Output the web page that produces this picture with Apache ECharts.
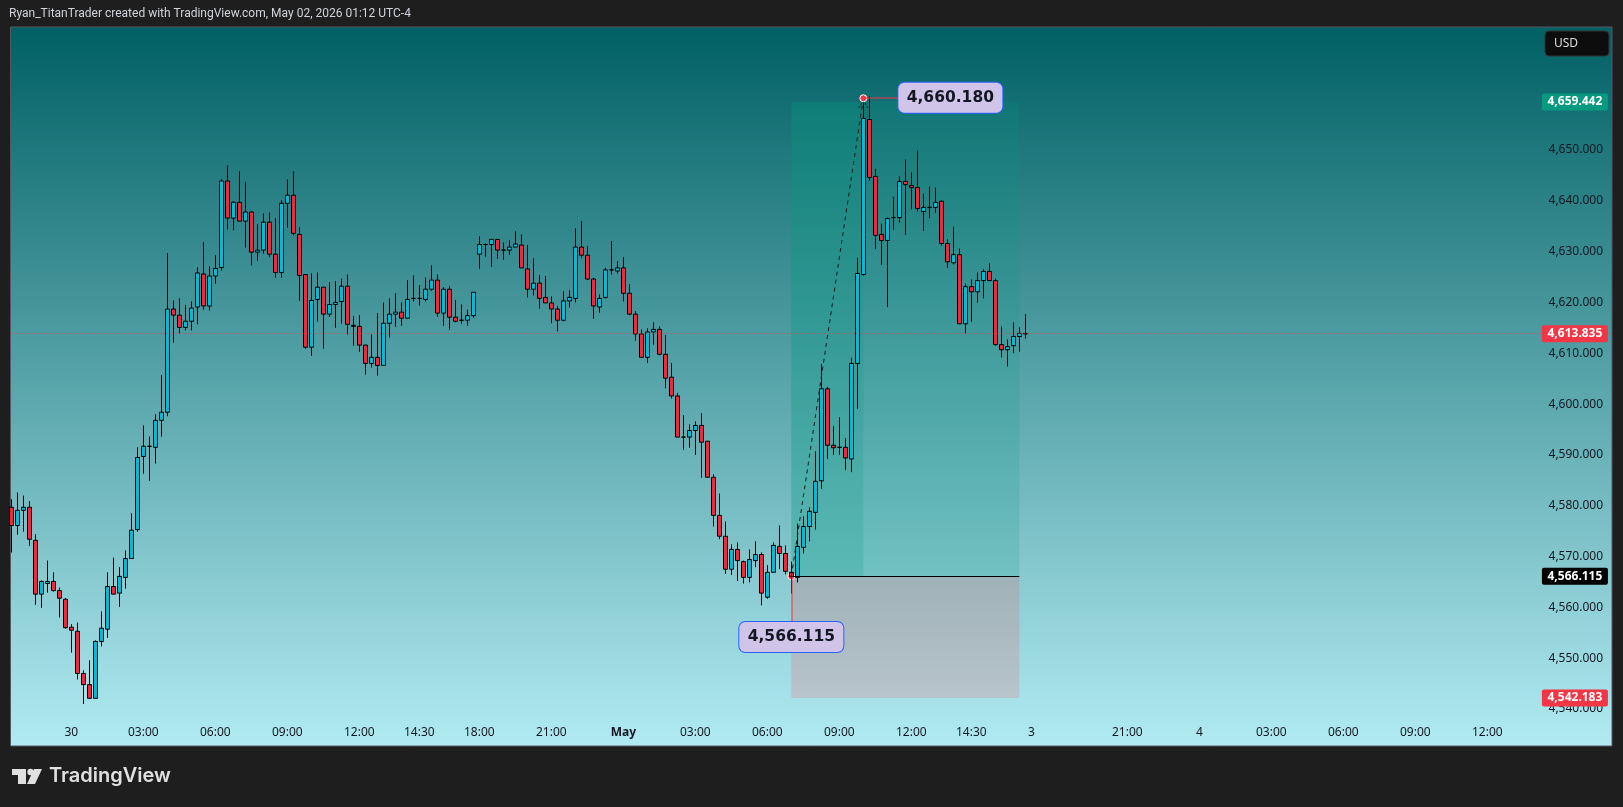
<!DOCTYPE html>
<html>
<head>
<meta charset="utf-8">
<title>XAUUSD</title>
<script src="https://cdn.jsdelivr.net/npm/echarts@6/dist/echarts.min.js"></script>
<style>
html,body{margin:0;padding:0;background:#1e1e1e;}
#chart{width:1623px;height:807px;}
</style>
</head>
<body>
<div id="chart"></div>
<script>
var opens = [
	4579.7,4576.1,4579.1,4579.7,4573.2,4562.6,4564.7,4565.1,4563.3,4561.6,
	4556.1,4555.3,4547.0,4544.8,4542.1,4553.3,4555.7,4564.1,4562.8,4565.9,
	4569.6,4575.3,4589.7,4591.7,4591.5,4596.8,4598.4,4618.7,4617.5,4615.1,
	4616.3,4619.1,4625.6,4619.3,4625.2,4626.9,4643.9,4636.6,4639.7,4636.0,
	4637.8,4629.9,4630.3,4635.8,4629.5,4625.9,4639.5,4641.1,4633.4,4625.5,
	4611.2,4620.6,4623.0,4617.7,4619.6,4620.2,4623.2,4615.5,4615.3,4611.6,
	4608.0,4609.2,4607.6,4615.9,4617.7,4618.1,4616.9,4620.8,4620.8,4620.6,
	4622.6,4624.4,4617.9,4622.6,4617.1,4616.5,4616.5,4617.4,4629.5,4631.4,
	4631.4,4632.4,4630.3,4630.3,4630.9,4631.3,4626.6,4622.6,4623.8,4621.0,
	4619.9,4618.7,4616.5,4620.3,4620.8,4630.9,4629.3,4624.6,4619.1,4621.0,
	4626.4,4626.2,4626.8,4621.8,4617.7,4613.8,4609.2,4614.2,4614.7,4609.8,
	4605.3,4601.6,4593.5,4593.5,4594.8,4595.8,4592.7,4585.6,4578.1,4574.0,
	4567.5,4571.4,4569.0,4565.9,4569.2,4570.4,4562.0,4566.9,4572.0,4570.6,
	4566.9,4565.9,4571.8,4575.9,4578.7,4584.9,4603.0,4591.9,4591.5,4591.5,
	4589.2,4608.0,4625.5,4656.0,4644.8,4633.4,4632.2,4636.7,4636.7,4643.8,
	4643.0,4642.6,4637.9,4638.7,4638.7,4639.9,4631.6,4627.8,4629.4,4615.8,
	4623.1,4622.1,4624.3,4626.1,4624.3,4611.7,4610.7,4611.5,4613.3,4613.9
];
var closes = [
	4576.1,4579.1,4579.7,4573.4,4562.6,4565.1,4565.1,4563.3,4561.8,4556.0,
	4555.5,4547.0,4544.8,4542.1,4553.3,4555.9,4564.1,4562.6,4566.1,4569.6,
	4575.2,4589.5,4591.7,4591.7,4596.8,4598.4,4618.7,4617.5,4615.1,4616.3,
	4618.9,4625.8,4619.3,4625.2,4626.7,4643.9,4636.6,4639.7,4636.0,4637.8,
	4629.9,4630.3,4635.8,4629.5,4625.9,4639.5,4641.1,4633.6,4625.3,4611.2,
	4620.4,4623.0,4617.7,4619.6,4620.0,4623.2,4615.7,4615.3,4611.6,4608.0,
	4609.2,4607.6,4615.9,4617.7,4618.1,4616.9,4620.6,4620.8,4620.8,4622.6,
	4624.4,4617.9,4622.6,4617.1,4616.3,4616.5,4617.4,4622.0,4631.4,4631.4,
	4632.4,4630.3,4630.3,4630.9,4631.5,4626.8,4622.6,4623.8,4620.8,4619.9,
	4618.7,4616.5,4620.3,4621.0,4630.9,4629.3,4624.6,4619.3,4620.8,4626.4,
	4626.4,4626.8,4621.8,4617.7,4613.8,4609.2,4614.2,4614.7,4609.8,4605.1,
	4601.6,4593.5,4593.5,4594.8,4595.8,4592.5,4585.6,4578.1,4574.0,4567.5,
	4571.4,4569.2,4565.9,4569.4,4570.4,4562.8,4566.9,4572.2,4570.6,4567.1,
	4566.1,4572.0,4575.9,4578.9,4584.8,4603.0,4591.9,4591.4,4591.5,4589.4,
	4608.0,4625.7,4656.2,4644.6,4633.2,4632.2,4636.5,4636.7,4643.8,4643.2,
	4642.6,4638.5,4638.7,4638.7,4639.7,4631.6,4628.0,4629.4,4615.8,4623.1,
	4622.1,4624.3,4626.1,4624.3,4611.7,4610.7,4611.3,4613.3,4613.9,4613.8
];
var lows = [
	4570.8,4574.3,4574.9,4572.1,4560.5,4559.9,4562.9,4563.1,4558.0,4555.8,
	4551.1,4545.8,4541.0,4542.1,4542.1,4552.3,4554.0,4562.6,4560.1,4563.7,
	4569.6,4574.9,4586.3,4584.9,4588.3,4593.6,4597.6,4612.1,4613.9,4614.5,
	4614.5,4615.7,4618.6,4618.4,4623.7,4626.3,4634.4,4634.2,4636.0,4630.8,
	4627.3,4628.2,4629.6,4628.9,4624.9,4624.9,4634.7,4633.2,4620.3,4610.9,
	4609.5,4616.2,4610.9,4617.2,4615.0,4615.8,4613.7,4611.5,4610.3,4605.8,
	4607.2,4605.6,4607.6,4613.1,4615.2,4615.4,4616.9,4620.2,4619.4,4620.2,
	4622.3,4617.2,4615.4,4614.6,4616.1,4615.8,4615.4,4617.0,4626.6,4629.0,
	4627.0,4628.6,4628.4,4629.4,4630.9,4626.8,4621.0,4621.4,4618.8,4619.9,
	4615.9,4614.3,4616.3,4619.0,4620.0,4628.7,4624.4,4616.8,4618.0,4620.8,
	4625.5,4625.7,4620.2,4617.5,4612.5,4609.2,4608.1,4611.7,4609.6,4603.1,
	4601.1,4593.5,4591.0,4591.4,4590.0,4585.5,4585.6,4575.9,4573.4,4566.6,
	4566.4,4565.2,4564.7,4564.9,4567.9,4560.4,4561.7,4566.9,4567.5,4566.5,
	4562.7,4564.9,4570.6,4573.0,4575.3,4583.3,4589.2,4590.0,4590.0,4587.0,
	4586.6,4599.1,4625.3,4644.0,4630.5,4627.4,4619.1,4634.3,4635.7,4633.3,
	4638.3,4637.9,4634.1,4636.6,4637.6,4631.2,4626.8,4627.5,4615.8,4613.9,
	4616.2,4620.0,4620.8,4624.3,4611.5,4609.2,4607.4,4610.0,4610.3,4612.9
];
var highs = [
	4581.3,4582.6,4582.0,4580.9,4574.4,4565.3,4569.2,4566.9,4563.9,4561.8,
	4556.7,4557.0,4547.6,4549.6,4553.5,4559.2,4566.9,4569.8,4567.9,4571.2,
	4578.5,4591.5,4595.8,4593.6,4598.0,4605.7,4629.7,4620.4,4620.8,4619.5,
	4620.2,4626.9,4631.9,4627.1,4629.3,4644.3,4647.0,4639.9,4645.8,4643.7,
	4638.0,4635.4,4637.5,4637.7,4636.6,4640.1,4644.2,4645.8,4634.8,4625.5,
	4625.7,4625.9,4623.0,4624.0,4624.2,4624.7,4625.5,4617.3,4617.5,4611.7,
	4613.7,4617.9,4620.0,4620.8,4621.8,4620.0,4624.4,4625.3,4623.4,4624.9,
	4627.3,4625.5,4623.0,4623.2,4620.5,4619.6,4618.6,4622.0,4633.0,4631.6,
	4632.4,4632.4,4631.8,4632.3,4634.0,4633.4,4631.3,4628.7,4625.4,4625.2,
	4621.2,4619.3,4622.2,4622.4,4634.6,4636.0,4631.1,4624.8,4621.6,4626.8,
	4632.1,4628.1,4628.9,4623.6,4618.3,4614.7,4614.9,4616.1,4615.3,4613.6,
	4608.1,4602.2,4597.8,4596.0,4596.6,4598.2,4592.7,4586.2,4582.4,4576.9,
	4572.4,4572.8,4569.2,4571.4,4573.0,4570.8,4568.3,4572.8,4576.1,4572.2,
	4569.0,4576.5,4577.9,4579.7,4590.7,4607.9,4603.4,4595.7,4597.4,4593.3,
	4609.1,4628.8,4660.2,4660.5,4646.3,4635.5,4636.7,4640.8,4644.8,4648.1,
	4645.6,4649.9,4641.4,4642.8,4642.6,4640.1,4632.4,4634.9,4630.6,4623.7,
	4624.5,4625.9,4626.5,4627.7,4624.7,4615.3,4612.7,4616.1,4615.1,4617.7
];

// time axis, index = candle number (15 min bars)
var timeTicks = [10,22,34,46,58,68,78,90,102,114,126,138,150,160,170,186,198,210,222,234,246];
var timeLabels = ['30','03:00','06:00','09:00','12:00','14:30','18:00','21:00','May','03:00','06:00','09:00','12:00','14:30','3','21:00','4','03:00','06:00','09:00','12:00'];
var priceTicks = [4540,4550,4560,4570,4580,4590,4600,4610,4620,4630,4640,4650];

// long position drawing
var entryPrice = 4566.115;
var targetPrice = 4659.442;
var stopPrice = 4542.183;
var lastPrice = 4613.835;
var swingLow = 4566.115;
var swingHigh = 4660.18;
var posStart = 130;
var posPivot = 142;
var posEnd = 168;

// price tags on the right
var tagPrices = [targetPrice, lastPrice, entryPrice, stopPrice];
var tagColors = ['#089981', '#f23645', '#000000', '#f23645'];
var tagX = 260.6;

var FONT = '"Noto Sans", sans-serif';

function fmtPrice(v){
	var s = v.toFixed(3);
	return s.charAt(0) + ',' + s.substring(1);
}

var candleData = [];
for(var i = 0; i < opens.length; i++){
	candleData.push([i, opens[i], closes[i], lows[i], highs[i]]);
}

var tagData = [];
for(var t = 0; t < tagPrices.length; t++){
	tagData.push({
		value: [tagX, tagPrices[t]],
		label: { backgroundColor: tagColors[t] }
	});
}

var theChart = echarts.init(document.getElementById('chart'));

var option = {
	animation: false,
	backgroundColor: '#1e1e1e',
	grid: {
		left: 10.5,
		top: 27,
		width: 1601.5,
		height: 719,
		show: true,
		borderColor: '#555860',
		borderWidth: 1,
		backgroundColor: new echarts.graphic.LinearGradient(0, 0, 0, 1, [
			{ offset: 0, color: '#006064' },
			{ offset: 1, color: '#b2ebf2' }
		])
	},
	xAxis: {
		type: 'value',
		min: -0.14,
		max: 266.78,
		axisLine: { show: false },
		axisTick: { show: false },
		splitLine: { show: false },
		axisLabel: {
			inside: true,
			margin: 7,
			customValues: timeTicks,
			fontFamily: FONT,
			fontSize: 12,
			color: '#131722',
			formatter: function(v){
				var l = timeLabels[timeTicks.indexOf(v)];
				return l == 'May' ? '{b|May}' : l;
			},
			rich: { b: { fontWeight: 'bold', fontFamily: FONT, fontSize: 12, color: '#131722' } }
		}
	},
	yAxis: {
		type: 'value',
		position: 'right',
		min: 4532.72,
		max: 4674.2,
		axisLine: { show: false },
		axisTick: { show: false },
		splitLine: { show: false },
		axisLabel: {
			inside: true,
			margin: 9,
			customValues: priceTicks,
			fontFamily: FONT,
			fontSize: 12,
			color: '#131722',
			formatter: function(v){ return fmtPrice(v); }
		}
	},
	series: [
		{
			name: 'position',
			type: 'line',
			z: 1,
			silent: true,
			showSymbol: false,
			data: [[posStart, entryPrice]],
			markArea: {
				silent: true,
				data: [
					[{ coord: [posStart, targetPrice], itemStyle: { color: 'rgba(8,153,129,0.17)' } }, { coord: [posEnd, entryPrice] }],
					[{ coord: [posStart, targetPrice], itemStyle: { color: 'rgba(8,153,129,0.2)' } }, { coord: [posPivot, entryPrice] }],
					[{ coord: [posStart, entryPrice], itemStyle: { color: 'rgba(255,80,90,0.2)' } }, { coord: [posEnd, stopPrice] }]
				]
			},
			markLine: {
				silent: true,
				symbol: 'none',
				label: { show: false },
				data: [
					[{ coord: [posStart, entryPrice], lineStyle: { color: '#000', width: 1, type: 'solid' } }, { coord: [posEnd, entryPrice] }],
					[{ coord: [posStart, swingLow], lineStyle: { color: 'rgba(242,54,69,0.5)', width: 2, type: 'solid' } }, { coord: [posStart, 4556] }],
					[{ coord: [posPivot, swingHigh], lineStyle: { color: 'rgba(242,54,69,0.5)', width: 2, type: 'solid' } }, { coord: [150, swingHigh] }]
				]
			}
		},
		{
			name: 'swing low',
			type: 'scatter',
			z: 1,
			silent: true,
			symbolSize: 7,
			itemStyle: { color: '#f23645', borderColor: '#fff', borderWidth: 1, opacity: 1 },
			data: [[posStart, swingLow]]
		},
		{
			name: 'XAUUSD',
			type: 'candlestick',
			z: 2,
			barWidth: 4,
			silent: true,
			itemStyle: {
				color: '#00bcd4',
				color0: '#f7263f',
				borderColor: '#000',
				borderColor0: '#000',
				borderColorDoji: '#000',
				borderWidth: 1
			},
			data: candleData,
			markLine: {
				silent: true,
				symbol: 'none',
				label: { show: false },
				lineStyle: { color: '#f23645', width: 1, type: [1, 2], opacity: 0.8 },
				data: [{ yAxis: lastPrice }]
			}
		},
		{
			name: 'leg',
			type: 'line',
			z: 3,
			silent: true,
			showSymbol: false,
			lineStyle: { color: '#0b1a1c', width: 1, type: [4, 4] },
			data: [[posStart, swingLow], [posPivot, swingHigh]]
		},
		{
			name: 'arrow head',
			type: 'scatter',
			z: 3,
			silent: true,
			symbol: 'path://M0,10 L5,0 L10,10',
			symbolSize: [9, 7],
			itemStyle: { color: 'transparent', borderColor: '#0b1a1c', borderWidth: 1, borderType: [2, 2], opacity: 1 },
			data: [[posPivot, 4659.0]]
		},
		{
			name: 'swing high',
			type: 'scatter',
			z: 4,
			silent: true,
			symbolSize: 7,
			itemStyle: { color: '#f23645', borderColor: '#fff', borderWidth: 1, opacity: 1 },
			data: [[posPivot, swingHigh]]
		},
		{
			name: 'callouts',
			type: 'scatter',
			z: 5,
			silent: true,
			symbolSize: 1,
			itemStyle: { color: 'transparent', opacity: 1 },
			label: {
				show: true,
				position: 'inside',
				width: 104,
				height: 30,
				lineHeight: 30,
				align: 'center',
				verticalAlign: 'middle',
				backgroundColor: '#d1c4e9',
				borderColor: '#2962ff',
				borderWidth: 1,
				borderRadius: 6,
				fontFamily: '"DejaVu Sans", sans-serif',
				fontWeight: 'bold',
				fontSize: 15.5,
				color: '#131722',
				formatter: function(p){ return fmtPrice(p.data[2]); }
			},
			data: [[156.5, 4660.3, swingHigh], [130, 4554.17, swingLow]]
		},
		{
			name: 'price tags',
			type: 'scatter',
			z: 6,
			silent: true,
			clip: false,
			symbolSize: 1,
			itemStyle: { color: 'transparent', opacity: 1 },
			label: {
				show: true,
				position: 'inside',
				width: 66,
				height: 17,
				lineHeight: 17,
				align: 'center',
				verticalAlign: 'middle',
				borderRadius: 2,
				fontFamily: FONT,
				fontWeight: 'bold',
				fontSize: 12,
				color: '#fff',
				formatter: function(p){ return fmtPrice(p.value[1]); }
			},
			data: tagData
		}
	],
	graphic: [
		{
			type: 'text',
			left: 9,
			top: 8,
			z: 20,
			style: {
				text: 'Ryan_TitanTrader created with TradingView.com, May 02, 2026 01:12 UTC-4',
				fontFamily: 'Roboto, sans-serif',
				fontSize: 12,
				fill: '#d1d4dc'
			}
		},
		{
			type: 'rect',
			z: 20,
			shape: { x: 1545, y: 31, width: 64, height: 25, r: 4 },
			style: { fill: '#0d0d0d', stroke: '#333', lineWidth: 1 }
		},
		{
			type: 'text',
			x: 1554,
			y: 38,
			z: 21,
			style: { text: 'USD', fontFamily: FONT, fontSize: 12, fill: '#dcdcdc' }
		},
		{
			type: 'polygon',
			z: 20,
			shape: { points: [[12,769],[26,769],[26,784],[18,784],[18,775],[12,775]] },
			style: { fill: '#e0e0e0' }
		},
		{
			type: 'circle',
			z: 20,
			shape: { cx: 30.5, cy: 772, r: 3.2 },
			style: { fill: '#e0e0e0' }
		},
		{
			type: 'polygon',
			z: 20,
			shape: { points: [[34,769],[42,769],[35,784],[27,784]] },
			style: { fill: '#e0e0e0' }
		},
		{
			type: 'text',
			x: 49,
			y: 766,
			z: 20,
			style: { text: 'TradingView', fontFamily: 'Inter, sans-serif', fontWeight: 600, fontSize: 20, fill: '#e0e0e0' }
		}
	]
};

theChart.setOption(option);
</script>
</body>
</html>
